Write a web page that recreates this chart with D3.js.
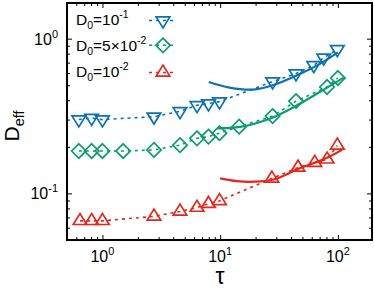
<!DOCTYPE html>
<html><head><meta charset="utf-8">
<script src="https://cdn.jsdelivr.net/npm/d3@7"></script>
<style>body{margin:0;background:#fff}svg{display:block;font-family:"Liberation Sans",Arial,Helvetica,sans-serif}</style>
</head><body><svg id="c" width="374" height="292"></svg>
<script>
// ---- data ----
const tauB = [0.63, 0.81, 1.0, 2.74, 4.56, 6.36, 7.96, 9.87, 27.9, 44.1, 62.4, 75.8, 99];
const DB   = [0.300, 0.307, 0.300, 0.313, 0.339, 0.371, 0.381, 0.392, 0.528, 0.595, 0.673, 0.752, 0.854];
const fitTB = [8, 12, 19, 28, 45, 71, 100];
const fitDB = [0.525, 0.483, 0.469, 0.5, 0.58, 0.69, 0.815];

const tauG = [0.63, 0.81, 1.0, 1.5, 2.74, 4.56, 6.36, 7.96, 9.87, 14.5, 27.9, 44.1, 80.9, 100];
const DG   = [0.188, 0.188, 0.188, 0.188, 0.191, 0.205, 0.227, 0.233, 0.245, 0.270, 0.316, 0.395, 0.487, 0.557];
const fitTG = [9.4, 14.8, 26.7, 45, 81, 112];
const fitDG = [0.263, 0.269, 0.305, 0.371, 0.483, 0.56];

const tauR = [0.645, 0.81, 1.0, 2.74, 4.56, 6.36, 7.96, 9.87, 27.5, 45.9, 63.6, 81, 99];
const DR   = [0.0665, 0.0665, 0.0665, 0.071, 0.0765, 0.081, 0.0857, 0.0894, 0.125, 0.147, 0.158, 0.166, 0.204];
const fitTR = [10, 13.9, 19.3, 28.5, 45, 81, 109];
const fitDR = [0.125, 0.12, 0.119, 0.123, 0.143, 0.17, 0.192];

const xMajor = [1, 10, 100];
const xMajorExp = ["0", "1", "2"];
const yMajor = [0.1, 1];
const yMajorExp = ["-1", "0"];

const legendMain = ["D", "D", "D"];
const legendSub = ["0", "0", "0"];
const legendRest = ["=10", "=5×10", "=10"];
const legendExp = ["-1", "-2", "-2"];

const colors = ["#0a72b4", "#0c9c72", "#e4261c"];
const shapes = ["tdown", "diamond", "tup"];

// ---- setup ----
const svg = d3.select("#c");
const L = 67, R = 372, T = 3, B = 240;
const x = d3.scaleLog().domain([0.5, 195]).range([L, R]);
const y = d3.scaleLog().domain([0.05, 1.7]).range([B, T]);

const series = [
  {tau: tauB, D: DB, ft: fitTB, fd: fitDB},
  {tau: tauG, D: DG, ft: fitTG, fd: fitDG},
  {tau: tauR, D: DR, ft: fitTR, fd: fitDR}
];

function shapePath(kind, cx, cy) {
  if (kind === "tdown") {
    const w = 6.8, h = 11;
    return `M${cx - w},${cy - h/3}L${cx + w},${cy - h/3}L${cx},${cy + 2*h/3}Z`;
  } else if (kind === "tup") {
    const w = 6.8, h = 11;
    return `M${cx - w},${cy + h/3}L${cx + w},${cy + h/3}L${cx},${cy - 2*h/3}Z`;
  } else {
    const r = 7.2;
    return `M${cx},${cy - r}L${cx + r},${cy}L${cx},${cy + r}L${cx - r},${cy}Z`;
  }
}

const isPow10 = v => Math.abs(Math.log10(v) - Math.round(Math.log10(v))) < 1e-9;

// ---- ticks (inward, mirrored) ----
const xMinor = x.ticks().filter(v => !isPow10(v));
const yMinor = y.ticks().filter(v => !isPow10(v));
function tk(axis, tr) {
  svg.append("g").attr("transform", tr).call(axis).call(g => g.select(".domain").remove());
}
tk(d3.axisBottom(x).tickValues(xMajor).tickSize(-5).tickFormat(""), `translate(0,${B})`);
tk(d3.axisBottom(x).tickValues(xMinor).tickSize(-3).tickFormat(""), `translate(0,${B})`);
tk(d3.axisTop(x).tickValues(xMajor).tickSize(-5).tickFormat(""), `translate(0,${T})`);
tk(d3.axisTop(x).tickValues(xMinor).tickSize(-3).tickFormat(""), `translate(0,${T})`);
tk(d3.axisLeft(y).tickValues(yMajor).tickSize(-5).tickFormat(""), `translate(${L},0)`);
tk(d3.axisLeft(y).tickValues(yMinor).tickSize(-3).tickFormat(""), `translate(${L},0)`);
tk(d3.axisRight(y).tickValues(yMajor).tickSize(-5).tickFormat(""), `translate(${R},0)`);
tk(d3.axisRight(y).tickValues(yMinor).tickSize(-3).tickFormat(""), `translate(${R},0)`);

// ---- tick labels ----
xMajor.forEach((v, i) => {
  const t = svg.append("text").attr("x", x(v)).attr("y", 262)
    .attr("text-anchor", "middle").attr("font-size", 16).attr("fill", "#000");
  t.append("tspan").text("10");
  t.append("tspan").attr("font-size", 11).attr("dy", -7).text(xMajorExp[i]);
});
yMajor.forEach((v, i) => {
  const t = svg.append("text").attr("x", 58).attr("y", y(v) + 6)
    .attr("text-anchor", "end").attr("font-size", 16).attr("fill", "#000");
  t.append("tspan").text("10");
  t.append("tspan").attr("font-size", 11).attr("dy", -7).text(yMajorExp[i]);
});

// ---- axis titles ----
svg.append("text").attr("x", 220).attr("y", 284).attr("text-anchor", "middle")
  .attr("font-size", 23).text("τ");
const yl = svg.append("text").attr("transform", "translate(19,126) rotate(-90)")
  .attr("text-anchor", "middle").attr("font-size", 21);
yl.append("tspan").text("D");
yl.append("tspan").attr("font-size", 14.5).attr("dy", 5).text("eff");

// ---- data ----
const dash = d3.line().x(d => x(d[0])).y(d => y(d[1]));
const fitLine = d3.line().x(d => x(d[0])).y(d => y(d[1])).curve(d3.curveCatmullRom.alpha(0.5));

series.forEach((s, i) => {
  const pts = s.tau.map((t, j) => [t, s.D[j]]);
  svg.append("path").attr("d", dash(pts)).attr("fill", "none")
    .attr("stroke", colors[i]).attr("stroke-width", 1.6).attr("stroke-dasharray", "3,4");
  svg.selectAll(null).data(pts).enter().append("path")
    .attr("d", d => shapePath(shapes[i], x(d[0]), y(d[1])))
    .attr("fill", "none").attr("stroke", colors[i]).attr("stroke-width", 1.7);
});
series.forEach((s, i) => {
  const fp = s.ft.map((t, j) => [t, s.fd[j]]);
  svg.append("path").attr("d", fitLine(fp)).attr("fill", "none")
    .attr("stroke", colors[i]).attr("stroke-width", 2.2);
});

// ---- frame ----
svg.append("rect").attr("x", L).attr("y", T).attr("width", R - L).attr("height", B - T)
  .attr("fill", "none").attr("stroke", "#000").attr("stroke-width", 2);

// ---- legend ----
const rowBase = [25, 50.5, 76.5];
const rowMark = [20.5, 45.3, 72.5];
legendMain.forEach((m, i) => {
  const t = svg.append("text").attr("x", 76).attr("y", rowBase[i]).attr("font-size", 15.5);
  t.append("tspan").text(m);
  t.append("tspan").attr("font-size", 10.5).attr("dy", 4).text(legendSub[i]);
  t.append("tspan").attr("dy", -4).text(legendRest[i]);
  t.append("tspan").attr("font-size", 10.5).attr("dy", -7).text(legendExp[i]);
  svg.append("line").attr("x1", 149).attr("x2", 177).attr("y1", rowMark[i]).attr("y2", rowMark[i])
    .attr("stroke", colors[i]).attr("stroke-width", 1.6).attr("stroke-dasharray", "3,4");
  svg.append("path").attr("d", shapePath(shapes[i], 163, rowMark[i]))
    .attr("fill", "none").attr("stroke", colors[i]).attr("stroke-width", 1.7);
});
</script></body></html>
